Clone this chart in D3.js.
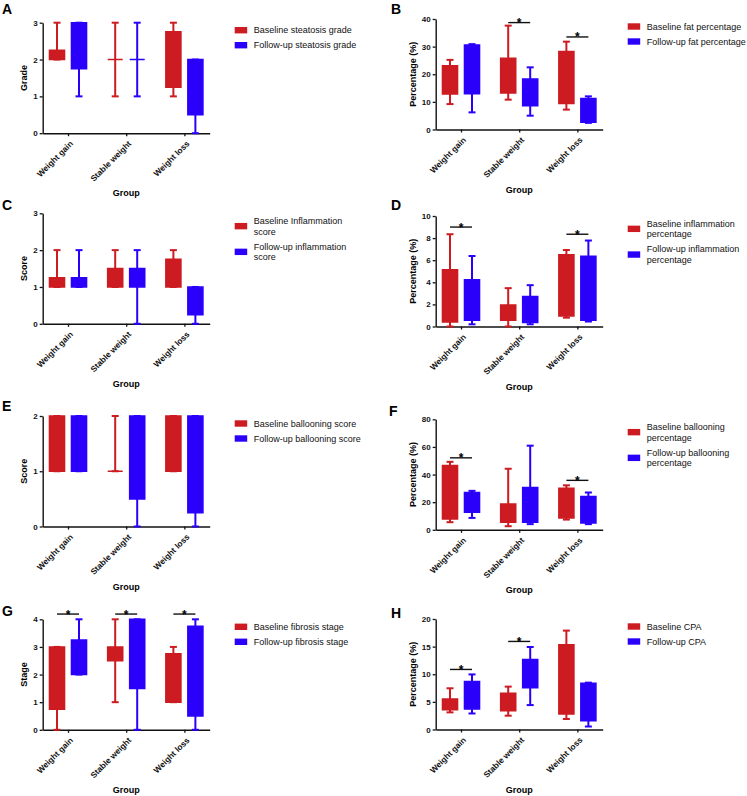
<!DOCTYPE html>
<html>
<head>
<meta charset="utf-8">
<script src="https://cdn.jsdelivr.net/npm/d3@7"></script>
<style>
  html, body { margin: 0; padding: 0; background: #fff; }
  svg { display: block; }
</style>
</head>
<body>
<svg id="chart" width="747" height="796"></svg>
<script>
// ---------------- data ----------------
const groups = ["Weight gain", "Stable weight", "Weight loss"];
// each entry: [min, Q1, Q3, max]
const steatosisBaseline = [[2, 2, 2.25, 3], [1, 2, 2, 3], [1, 1.25, 2.75, 3]];
const steatosisFollowup = [[1, 1.75, 3, 3], [1, 2, 2, 3], [0, 0.5, 2, 2]];
const fatBaseline = [[9.2, 12.9, 23.1, 25.2], [10.8, 13.2, 25.8, 37.6], [7.2, 9.4, 28.2, 31.8]];
const fatFollowup = [[6.2, 13.0, 30.6, 30.9], [5.0, 8.6, 18.3, 22.5], [2.4, 2.6, 11.2, 12.0]];
const inflScoreBaseline = [[1, 1, 1.25, 2], [1, 1, 1.5, 2], [1, 1, 1.75, 2]];
const inflScoreFollowup = [[1, 1, 1.25, 2], [0, 1, 1.5, 2], [0, 0.25, 1, 1]];
const inflPctBaseline = [[0, 0.42, 5.12, 8.35], [0, 0.57, 1.95, 3.47], [0.8, 0.96, 6.5, 6.92]];
const inflPctFollowup = [[0.2, 0.57, 4.22, 6.38], [0.2, 0.36, 2.72, 3.74], [0.45, 0.57, 6.35, 7.78]];
const balloonScoreBaseline = [[1, 1, 2, 2], [1, 1, 1, 2], [1, 1, 2, 2]];
const balloonScoreFollowup = [[1, 1, 2, 2], [0, 0.5, 2, 2], [0, 0.25, 2, 2]];
const balloonPctBaseline = [[5.5, 7.9, 46.6, 49.2], [2.6, 5.5, 18.6, 44.2], [7.4, 8.6, 30.1, 32.2]];
const balloonPctFollowup = [[8.6, 12.7, 27.0, 28.2], [4.1, 5.5, 30.6, 60.9], [4.1, 5.0, 24.1, 27.0]];
const fibrosisBaseline = [[0, 0.75, 3, 3], [1, 2.5, 3, 4], [1, 1, 2.75, 3]];
const fibrosisFollowup = [[2, 2, 3.25, 4], [0, 1.5, 4, 4], [0, 0.5, 3.75, 4]];
const cpaBaseline = [[3.1, 3.58, 5.49, 7.46], [2.5, 3.4, 6.57, 7.76], [1.9, 2.8, 15.34, 17.9]];
const cpaFollowup = [[2.9, 3.7, 8.66, 9.97], [4.42, 7.58, 12.66, 14.93], [0.54, 1.6, 8.36, 8.48]];

// significance brackets (data value where the bracket is drawn; null = none)
const fatSig = [null, 38.7, 33.5];
const inflPctSig = [9.0, null, 8.35];
const balloonPctSig = [52.1, null, 35.8];
const fibrosisSig = [4.19, 4.19, 4.19];
const cpaSig = [10.87, 15.94, null];

// tick values
const ticksA = [0, 1, 2, 3];
const ticksB = [0, 10, 20, 30, 40];
const ticksC = [0, 1, 2, 3];
const ticksD = [0, 2, 4, 6, 8, 10];
const ticksE = [0, 1, 2];
const ticksF = [0, 20, 40, 60, 80];
const ticksG = [0, 1, 2, 3, 4];
const ticksH = [0, 5, 10, 15, 20];

// legend labels (lines)
const legendA = [["Baseline steatosis grade"], ["Follow-up steatosis grade"]];
const legendB = [["Baseline fat percentage"], ["Follow-up fat percentage"]];
const legendC = [["Baseline Inflammation", "score"], ["Follow-up inflammation", "score"]];
const legendD = [["Baseline inflammation", "percentage"], ["Follow-up inflammation", "percentage"]];
const legendE = [["Baseline ballooning score"], ["Follow-up ballooning score"]];
const legendF = [["Baseline ballooning", "percentage"], ["Follow-up ballooning", "percentage"]];
const legendG = [["Baseline fibrosis stage"], ["Follow-up fibrosis stage"]];
const legendH = [["Baseline CPA"], ["Follow-up CPA"]];

const xTitle = "Group";

// ---------------- layout / style ----------------
const RED = "#cc1b21", BLUE = "#2b00fb";
const PLOT_W = 167, PLOT_H = 110.5;
const sideX = [42.7, 435.7];
const ylabelOffset = [15.7, 19.7];

const panels = [
  { letter: "A", side: 0, top: 22.7, letterPos: [2, 14], ticks: ticksA, ylabel: "Grade", base: steatosisBaseline, follow: steatosisFollowup, legend: legendA, sig: null },
  { letter: "B", side: 1, top: 19, letterPos: [391, 14], ticks: ticksB, ylabel: "Percentage (%)", base: fatBaseline, follow: fatFollowup, legend: legendB, sig: fatSig },
  { letter: "C", side: 0, top: 213.3, letterPos: [2, 209.5], ticks: ticksC, ylabel: "Score", base: inflScoreBaseline, follow: inflScoreFollowup, legend: legendC, sig: null },
  { letter: "D", side: 1, top: 216, letterPos: [391, 209.5], ticks: ticksD, ylabel: "Percentage (%)", base: inflPctBaseline, follow: inflPctFollowup, legend: legendD, sig: inflPctSig },
  { letter: "E", side: 0, top: 416, letterPos: [2, 410.5], ticks: ticksE, ylabel: "Score", base: balloonScoreBaseline, follow: balloonScoreFollowup, legend: legendE, sig: null },
  { letter: "F", side: 1, top: 419.3, letterPos: [389, 415.5], ticks: ticksF, ylabel: "Percentage (%)", base: balloonPctBaseline, follow: balloonPctFollowup, legend: legendF, sig: balloonPctSig },
  { letter: "G", side: 0, top: 619.3, letterPos: [2, 615.5], ticks: ticksG, ylabel: "Stage", base: fibrosisBaseline, follow: fibrosisFollowup, legend: legendG, sig: fibrosisSig },
  { letter: "H", side: 1, top: 619, letterPos: [391, 617.5], ticks: ticksH, ylabel: "Percentage (%)", base: cpaBaseline, follow: cpaFollowup, legend: legendH, sig: cpaSig }
];

const svg = d3.select("#chart");
const FONT = "'Liberation Sans', Arial, sans-serif";

panels.forEach(p => {
  const x0 = sideX[p.side];
  const x1 = x0 + PLOT_W;
  const y0 = p.top, y1 = p.top + PLOT_H;
  const g = svg.append("g");

  const x = d3.scalePoint().domain(groups).range([x0, x1]).padding(0.435);
  const y = d3.scaleLinear().domain([0, d3.max(p.ticks)]).range([y1, y0]);

  // panel letter
  g.append("text").attr("x", p.letterPos[0]).attr("y", p.letterPos[1])
    .attr("font-family", FONT)
    .attr("font-weight", 700).attr("font-size", 14).text(p.letter);

  // y axis
  const ya = g.append("g").attr("transform", `translate(${x0},0)`)
    .call(d3.axisLeft(y).tickValues(p.ticks).tickSize(3).tickSizeOuter(0).tickPadding(2).tickFormat(d3.format("d")));
  ya.select(".domain").attr("stroke", "#111").attr("stroke-width", 1.4);
  ya.selectAll(".tick line").attr("stroke", "#111").attr("stroke-width", 1.3);
  ya.selectAll(".tick text").attr("font-family", FONT).attr("font-weight", 700).attr("font-size", 8).attr("fill", "#111");

  // x axis
  const xa = g.append("g").attr("transform", `translate(0,${y1})`)
    .call(d3.axisBottom(x).tickSize(3).tickSizeOuter(0));
  xa.select(".domain").attr("stroke", "#111").attr("stroke-width", 1.4);
  xa.selectAll(".tick line").attr("stroke", "#111").attr("stroke-width", 1.3);
  xa.selectAll(".tick text")
    .attr("font-family", FONT).attr("font-weight", 700).attr("font-size", 8.3).attr("fill", "#111")
    .attr("x", 0).attr("y", 0).attr("dy", "0.35em")
    .attr("text-anchor", "end")
    .attr("transform", "translate(3,9) rotate(-45)");

  // axis titles
  g.append("text").attr("x", (x0 + x1) / 2).attr("y", y1 + 63)
    .attr("text-anchor", "middle").attr("font-family", FONT).attr("font-weight", 700)
    .attr("font-size", 9).text(xTitle);
  g.append("text")
    .attr("transform", `translate(${x0 - ylabelOffset[p.side]},${(y0 + y1) / 2}) rotate(-90)`)
    .attr("text-anchor", "middle").attr("font-family", FONT).attr("font-weight", 700)
    .attr("font-size", 9).text(p.ylabel);

  // boxes
  const series = [{ data: p.base, color: RED, off: -11 }, { data: p.follow, color: BLUE, off: 11 }];
  const BW = 15, CAP = 7;
  series.forEach(s => {
    s.data.forEach((d, i) => {
      const cx = x(groups[i]) + s.off;
      const [mn, q1, q3, mx] = d;
      // whisker
      g.append("line").attr("x1", cx).attr("x2", cx).attr("y1", y(mn)).attr("y2", y(mx))
        .attr("stroke", s.color).attr("stroke-width", 2);
      [mn, mx].forEach(v => {
        g.append("line").attr("x1", cx - CAP / 2).attr("x2", cx + CAP / 2)
          .attr("y1", y(v)).attr("y2", y(v)).attr("stroke", s.color).attr("stroke-width", 2);
      });
      // box
      const top = y(q3), bot = y(q1);
      g.append("path")
        .attr("d", `M${cx - BW / 2},${top}H${cx + BW / 2}V${bot}H${cx - BW / 2}Z`)
        .attr("fill", s.color).attr("stroke", s.color).attr("stroke-width", 1.6);
    });
  });

  // significance brackets
  if (p.sig) {
    p.sig.forEach((v, i) => {
      if (v == null) return;
      const cx = x(groups[i]);
      const yy = y(v);
      g.append("line").attr("x1", cx - 11).attr("x2", cx + 11).attr("y1", yy).attr("y2", yy)
        .attr("stroke", "#111").attr("stroke-width", 1.4);
      g.append("text").attr("x", cx).attr("y", yy + 4.5).attr("text-anchor", "middle")
        .attr("font-family", FONT).attr("font-weight", 700).attr("font-size", 12).text("*");
    });
  }

  // legend
  const lx = x0 + 192;
  let ly = y0 + 7.5;
  const LH = 10.7;
  [RED, BLUE].forEach((c, k) => {
    const lines = p.legend[k];
    const center = ly + (lines.length - 1) * LH / 2;
    g.append("rect").attr("x", lx).attr("y", center - 3.2).attr("width", 12.5).attr("height", 6.4).attr("fill", c);
    lines.forEach((t, j) => {
      g.append("text").attr("x", lx + 19).attr("y", ly + j * LH).attr("dy", "0.35em")
        .attr("font-family", FONT).attr("font-size", 9).attr("fill", "#111").text(t);
    });
    ly += lines.length * LH + 4.3;
  });
});
</script>
</body>
</html>
